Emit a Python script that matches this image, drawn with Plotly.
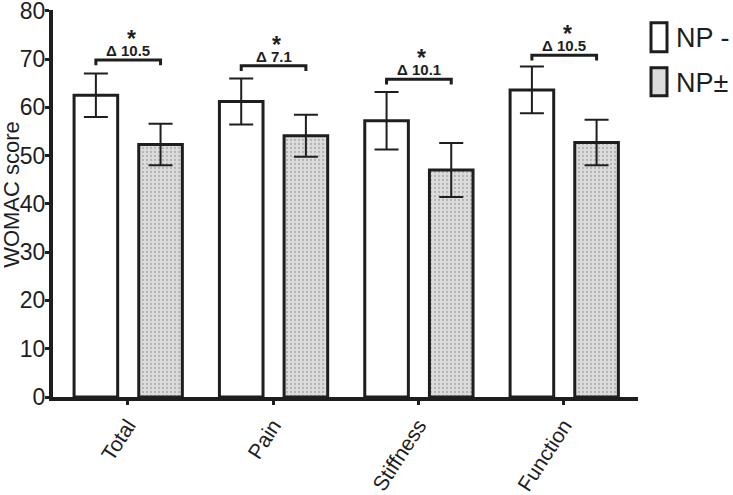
import plotly.graph_objects as go

categories = ["Total", "Pain", "Stiffness", "Function"]
np_minus = [62.5, 61.2, 57.2, 63.6]
np_minus_err = [4.5, 4.75, 5.95, 4.85]
np_pm = [52.3, 54.1, 47.0, 52.7]
np_pm_err = [4.3, 4.35, 5.6, 4.7]
bracket_y = [69.8, 68.6, 65.8, 70.8]
delta_labels = ["Δ 10.5", "Δ 7.1", "Δ 10.1", "Δ 10.5"]
y_ticks = [0, 10, 20, 30, 40, 50, 60, 70, 80]
series_names = ["NP -", "NP±"]
y_title = "WOMAC score"

W, H = 733, 495
Y_TOP = 80.15
PL, PR, PT, PB = 53, 638, 10.3, 397  # plot area in pixels
L, T, R, B = PL, PT, W - PR, H - PB
INK = "#1e1e1e"
FONT = "Arial, Liberation Sans, sans-serif"

def px_x(px):
    return (px - PL) / (PR - PL)

def px_y(py):
    return (PB - py) / (PB - PT)

fig = go.Figure()
fig.add_trace(go.Bar(
    x=categories, y=np_minus, name=series_names[0],
    offset=-0.37, width=0.30,
    marker=dict(color="white", line=dict(color=INK, width=3)),
    error_y=dict(type="data", array=np_minus_err, color=INK, thickness=2, width=12),
    showlegend=False,
))
fig.add_trace(go.Bar(
    x=categories, y=np_pm, name=series_names[1],
    offset=0.075, width=0.30,
    marker=dict(color="#dcdcdc", line=dict(color=INK, width=3),
                pattern=dict(shape=".", fgcolor="#8a8a8a", size=4, solidity=0.25, fillmode="overlay")),
    error_y=dict(type="data", array=np_pm_err, color=INK, thickness=2, width=12),
    showlegend=False,
))

shapes = []
annotations = []
c_left, c_right = -0.22, 0.225
for i, (by, lab) in enumerate(zip(bracket_y, delta_labels)):
    shapes.append(dict(type="path", xref="x", yref="y",
                       path=f"M {i + c_left} {by - 1.1} L {i + c_left} {by} L {i + c_right} {by} L {i + c_right} {by - 1.1}",
                       line=dict(color=INK, width=3)))
    annotations.append(dict(x=i + 0.003, y=by, xref="x", yref="y", text=f"<b>{lab}</b>",
                            showarrow=False, yanchor="bottom", yshift=-1,
                            font=dict(family=FONT, size=15, color=INK)))
    annotations.append(dict(x=i + 0.003, y=by, xref="x", yref="y", text="<b>*</b>",
                            showarrow=False, yanchor="bottom", yshift=6, xshift=3,
                            font=dict(family=FONT, size=23, color=INK)))

# y-axis title
annotations.append(dict(x=px_x(12), y=px_y(195), xref="paper", yref="paper", text=y_title,
                        textangle=-90, showarrow=False, xanchor="center", yanchor="middle",
                        font=dict(family=FONT, size=22, color=INK)))

# manual legend
legend_boxes = [(23, 52), (68, 96)]
for k, (y0, y1) in enumerate(legend_boxes):
    fill = "white" if k == 0 else "#dcdcdc"
    shapes.append(dict(type="rect", xref="paper", yref="paper",
                       x0=px_x(651), x1=px_x(667), y0=px_y(y1), y1=px_y(y0),
                       line=dict(color=INK, width=3), fillcolor=fill))
    annotations.append(dict(x=px_x(674), y=px_y((y0 + y1) / 2 + 1), xref="paper", yref="paper",
                            text=series_names[k], showarrow=False, xanchor="left", yanchor="middle",
                            font=dict(family=FONT, size=27, color=INK)))

fig.update_layout(
    width=W, height=H,
    margin=dict(l=L, r=R, t=T, b=B, autoexpand=False),
    plot_bgcolor="white", paper_bgcolor="white",
    barmode="overlay",
    shapes=shapes, annotations=annotations,
    font=dict(family=FONT, color=INK),
)
fig.update_xaxes(
    range=[-0.515, 3.51], showline=True, linecolor=INK, linewidth=4,
    ticks="outside", ticklen=4, tickwidth=3, tickcolor=INK,
    tickangle=-57, tickfont=dict(family=FONT, size=21, color=INK),
    showgrid=False, zeroline=False, automargin=False,
)
fig.update_yaxes(
    range=[0, Y_TOP], tickvals=y_ticks, showline=True, linecolor=INK, linewidth=4,
    ticks="outside", ticklen=4, tickwidth=3, tickcolor=INK,
    tickfont=dict(family=FONT, size=23, color=INK), ticklabelstandoff=-5,
    ticklabeloverflow="allow",
    showgrid=False, zeroline=False, automargin=False,
)

fig.write_html("out.html", config={"displayModeBar": False},
               post_script="document.body.style.margin='0';document.body.style.overflow='hidden';")
